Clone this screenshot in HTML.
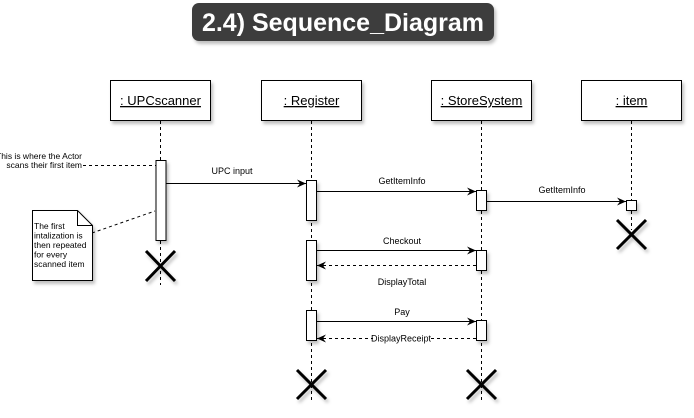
<!DOCTYPE html>
<html><head><meta charset="utf-8"><style>
body{margin:0;background:#fff;width:694px;height:413px;overflow:hidden;font-family:"Liberation Sans",Arial,sans-serif}
</style></head><body>
<svg width="694" height="413" xmlns="http://www.w3.org/2000/svg" font-family="Liberation Sans, Arial, sans-serif">
<defs>
<filter id="sh" x="-20%" y="-20%" width="150%" height="160%"><feDropShadow dx="2" dy="3" stdDeviation="1.5" flood-color="#000" flood-opacity="0.25"/></filter>
<marker id="ar" markerWidth="10" markerHeight="10" refX="9" refY="5" orient="auto" markerUnits="userSpaceOnUse"><path d="M0,1 L9,5 L0,9 L3,5 Z" fill="#000"/></marker>
</defs>
<g>
<rect x="192" y="3" width="302" height="38" rx="7" fill="#3d3d3d" filter="url(#sh)"/>
<text x="343" y="31" text-anchor="middle" fill="#fff" font-size="25" font-weight="bold">2.4) Sequence_Diagram</text>
</g>
<g stroke="#000" stroke-width="1" stroke-dasharray="3,3">
<line x1="160.5" y1="121" x2="160.5" y2="285"/>
<line x1="311.5" y1="121" x2="311.5" y2="400"/>
<line x1="481.5" y1="121" x2="481.5" y2="400"/>
<line x1="631.5" y1="121" x2="631.5" y2="230"/>
</g>
<g font-size="13" text-anchor="middle">
<g><rect x="110.5" y="80.5" width="100" height="40" fill="#fff" stroke="#000" filter="url(#sh)"/><text x="160.5" y="105" text-decoration="underline">: UPCscanner</text></g>
<g><rect x="261.5" y="80.5" width="100" height="40" fill="#fff" stroke="#000" filter="url(#sh)"/><text x="311.5" y="105" text-decoration="underline">: Register</text></g>
<g><rect x="431.5" y="80.5" width="100" height="40" fill="#fff" stroke="#000" filter="url(#sh)"/><text x="481.5" y="105" text-decoration="underline">: StoreSystem</text></g>
<g><rect x="581.5" y="80.5" width="100" height="40" fill="#fff" stroke="#000" filter="url(#sh)"/><text x="631.5" y="105" text-decoration="underline">: item</text></g>
</g>
<g fill="#fff" stroke="#000" filter="url(#sh)">
<rect x="156" y="160.5" width="10" height="80"/>
<rect x="306.5" y="180.5" width="10" height="40"/>
<rect x="306.5" y="240.5" width="10" height="40"/>
<rect x="306.5" y="310.5" width="10" height="30"/>
<rect x="476.5" y="190.5" width="10" height="20"/>
<rect x="476.5" y="250.5" width="10" height="20"/>
<rect x="476.5" y="320.5" width="10" height="20"/>
<rect x="626.5" y="200.5" width="10" height="10"/>
</g>
<g stroke="#000" stroke-width="1" font-size="9" fill="#000">
<line x1="166" y1="183.5" x2="306" y2="183.5" marker-end="url(#ar)"/>
<text x="232" y="174" text-anchor="middle" stroke="none">UPC input</text>
<line x1="317" y1="191.5" x2="476" y2="191.5" marker-end="url(#ar)"/>
<text x="402" y="184" text-anchor="middle" stroke="none">GetItemInfo</text>
<line x1="487" y1="201.5" x2="626" y2="201.5" marker-end="url(#ar)"/>
<text x="562" y="193" text-anchor="middle" stroke="none">GetItemInfo</text>
<line x1="317" y1="250.5" x2="476" y2="250.5" marker-end="url(#ar)"/>
<text x="402" y="244" text-anchor="middle" stroke="none">Checkout</text>
<line x1="476" y1="265.5" x2="317" y2="265.5" stroke-dasharray="3,3" marker-end="url(#ar)"/>
<text x="402" y="285" text-anchor="middle" stroke="none">DisplayTotal</text>
<line x1="317" y1="321.5" x2="476" y2="321.5" marker-end="url(#ar)"/>
<text x="402" y="315" text-anchor="middle" stroke="none">Pay</text>
<line x1="476" y1="338.5" x2="317" y2="338.5" stroke-dasharray="3,3" marker-end="url(#ar)"/>
<rect x="373" y="334" width="56" height="9" fill="#fff" stroke="none"/>
<text x="401" y="341.5" text-anchor="middle" stroke="none">DisplayReceipt</text>
</g>
<g stroke="#000" stroke-width="3" filter="url(#sh)">
<g><line x1="146" y1="251" x2="175" y2="281"/><line x1="175" y1="251" x2="146" y2="281"/></g>
<g><line x1="617" y1="220" x2="646" y2="249"/><line x1="646" y1="220" x2="617" y2="249"/></g>
<g><line x1="297" y1="370" x2="326" y2="399"/><line x1="326" y1="370" x2="297" y2="399"/></g>
<g><line x1="467" y1="370" x2="496" y2="399"/><line x1="496" y1="370" x2="467" y2="399"/></g>
</g>
<g>
<line x1="83" y1="165.5" x2="156" y2="165.5" stroke="#000" stroke-dasharray="3,3"/>
<text x="82" y="159" text-anchor="end" font-size="8.5">This is where the Actor</text>
<text x="82" y="168" text-anchor="end" font-size="8.5">scans their first item</text>
</g>
<g>
<line x1="92" y1="233" x2="155" y2="211" stroke="#000" stroke-dasharray="3,3"/>
<path d="M32.5,210.5 H77.5 L92.5,225.5 V280.5 H32.5 Z" fill="#fff" stroke="#000" filter="url(#sh)"/>
<path d="M77.5,210.5 V225.5 H92.5" fill="none" stroke="#000"/>
<g font-size="8.5"><text x="34" y="229">The first</text><text x="34" y="238.5">intalization is</text><text x="34" y="248">then repeated</text><text x="34" y="257.5">for every</text><text x="34" y="267">scanned item</text></g>
</g>
</svg>
</body></html>
